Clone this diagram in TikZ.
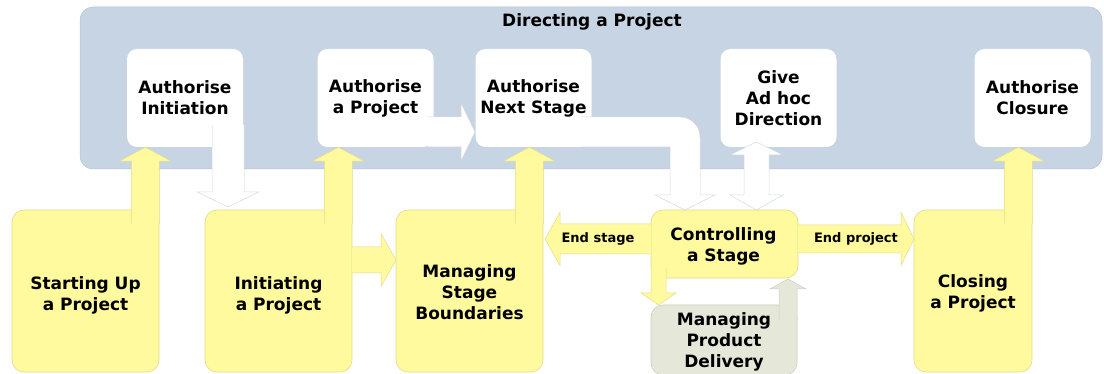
\documentclass[tikz,border=0pt]{standalone}
\usepackage{fontspec}
\setmainfont{DejaVu Sans}
\usetikzlibrary{calc}
\definecolor{bgblue}{HTML}{C7D4E3}
\definecolor{bgline}{HTML}{B2C1D2}
\definecolor{ylw}{HTML}{FFFA9E}
\definecolor{ylwline}{HTML}{E2DB8C}
\definecolor{grn}{HTML}{E5E8D8}
\definecolor{grnline}{HTML}{CBD0BD}
\definecolor{wline}{HTML}{D6D9DE}
\tikzset{
  arrL/.store in=\arrL, arrW/.store in=\arrW, arrH/.store in=\arrH, arrh/.store in=\arrh,
  arrL=50, arrW=14, arrH=26, arrh=14,
  arrow body/.style={},
  barr/.pic={
    \path[arrow body, draw=none] (-\arrW,\arrL) -- (-\arrW,\arrh) -- (-\arrH,\arrh) -- (0,0) -- (\arrH,\arrh) -- (\arrW,\arrh) -- (\arrW,\arrL) -- cycle;
    \path[arrow body, fill=none] (-\arrW,\arrL) -- (-\arrW,\arrh) -- (-\arrH,\arrh) -- (0,0) -- (\arrH,\arrh) -- (\arrW,\arrh) -- (\arrW,\arrL);
  }
}
\begin{document}
\begin{tikzpicture}[x=1pt,y=-1pt,
  every node/.style={font=\bfseries\fontsize{17}{21}\selectfont, align=center, inner sep=0pt, text=black},
  bgbox/.style={fill=bgblue, draw=bgline, line width=0.5pt, rounded corners=13pt, minimum width=1022pt, minimum height=162pt},
  wbox/.style={fill=white, rounded corners=10pt, minimum width=116pt, minimum height=98pt},
  ybox/.style={fill=ylw, draw=ylwline, line width=0.6pt, rounded corners=12pt, minimum width=147pt, minimum height=162pt},
  gbox/.style={fill=grn, draw=grnline, line width=0.6pt, rounded corners=12pt, minimum width=146pt, minimum height=70pt},
  yarr/.style={fill=ylw, draw=ylwline, line width=0.5pt},
  warr/.style={fill=white, draw=wline, line width=0.5pt},
  garr/.style={fill=grn, draw=grnline, line width=0.5pt},
  lbl/.style={font=\bfseries\fontsize{13}{15}\selectfont}
]
\useasboundingbox (0,0) rectangle (1104,374);
% background and process boxes
\node[bgbox] (dir) at (591,88) {};
\node (dirt) at (592,21.5) {Directing a Project};
\node[wbox] (ai) at (185,98) {Authorise\\Initiation};
\node[wbox] (ap) at (375.5,98) {Authorise\\a Project};
\node[wbox] (an) at (533.5,98) {Authorise\\Next Stage};
\node[wbox] (gd) at (778.5,98) {Give\\Ad hoc\\Direction};
\node[wbox] (ac) at (1032.5,98) {Authorise\\Closure};
\node[ybox] (su) at (85.5,291) {};
\node[ybox] (ip) at (278.5,291) {};
\node[ybox] (msb) at (469.5,291) {};
\node[ybox, minimum height=68pt] (cs) at (724.5,244) {};
\node[gbox] (mpd) at (724,340) {};
\node[ybox, minimum width=118pt] (cp) at (973,291) {};
\node (sut) at ($(su)+(0,4.5)$) {Starting Up\\a Project};
\node (ipt) at ($(ip)+(0,4.5)$) {Initiating\\a Project};
\node (msbt) at ($(msb)+(0,1.5)$) {Managing\\Stage\\Boundaries};
\node (cst) at ($(cs)+(-1,2.5)$) {Controlling\\a Stage};
\node (mpdt) at ($(mpd)+(0,2)$) {Managing\\Product\\Delivery};
\node (cpt) at ($(cp)+(0,2.5)$) {Closing\\a Project};
% yellow up arrows
\pic[arrow body/.style=yarr, arrL=77, xshift=-14pt] at (su.north east |- ai.south) {barr};
\pic[arrow body/.style=yarr, arrL=77, xshift=-14pt] at (ip.north east |- ap.south) {barr};
\pic[arrow body/.style=yarr, arrL=77, xshift=-14pt] at (msb.north east |- an.south) {barr};
\pic[arrow body/.style=yarr, arrL=77, xshift=-14pt] at (cp.north east |- ac.south) {barr};
% Initiating -> Managing Stage Boundaries
\pic[arrow body/.style=yarr, arrL=44, arrW=13, arrH=26.5, arrh=15, rotate=-90] at (396,260) {barr};
% Authorise Initiation -> Initiating
\pic[arrow body/.style=warr, arrL=82, arrW=16, arrH=30.5, arrh=15, rotate=180] at (228,207) {barr};
% Authorise a Project -> Authorise Next Stage
\pic[arrow body/.style=warr, arrL=47, arrW=15, arrH=29, arrh=14, rotate=-90] at (475,132) {barr};
% Authorise Next Stage -> Controlling a Stage (bent)
\path[warr, draw=none] (581,117) -- (680,117) arc[start angle=-90, end angle=0, radius=20] -- (700,195) -- (715,195) -- (685,210) -- (655,195) -- (670,195) -- (670,147) -- (581,147) -- cycle;
\path[warr, fill=none] (581,117) -- (680,117) arc[start angle=-90, end angle=0, radius=20] -- (700,195) -- (715,195) -- (685,210) -- (655,195) -- (670,195) -- (670,147) -- (581,147);
% Give Ad hoc Direction <-> Controlling a Stage
\draw[warr] (744,155) -- (730,155) -- (756.5,142) -- (783,155) -- (769,155) -- (769,195) -- (783,195) -- (756.5,210) -- (730,195) -- (744,195) -- cycle;
% End stage / End project
\pic[arrow body/.style=yarr, arrL=106, arrW=15, arrH=26.5, arrh=15, rotate=90] at (545,239) {barr};
\pic[arrow body/.style=yarr, arrL=116, arrW=14, arrH=26.5, arrh=13, rotate=-90] at (914,239) {barr};
\node[lbl] (es) at (598,239) {End stage};
\node[lbl] (ep) at (856,239) {End project};
% Controlling <-> Managing Product Delivery
\pic[arrow body/.style=yarr, arrL=37, arrW=7.5, arrH=17.5, arrh=12, rotate=180] at (658.5,305) {barr};
\pic[arrow body/.style=garr, arrL=41, arrW=9, arrH=18, arrh=10] at (788,279) {barr};
\end{tikzpicture}
\end{document}
